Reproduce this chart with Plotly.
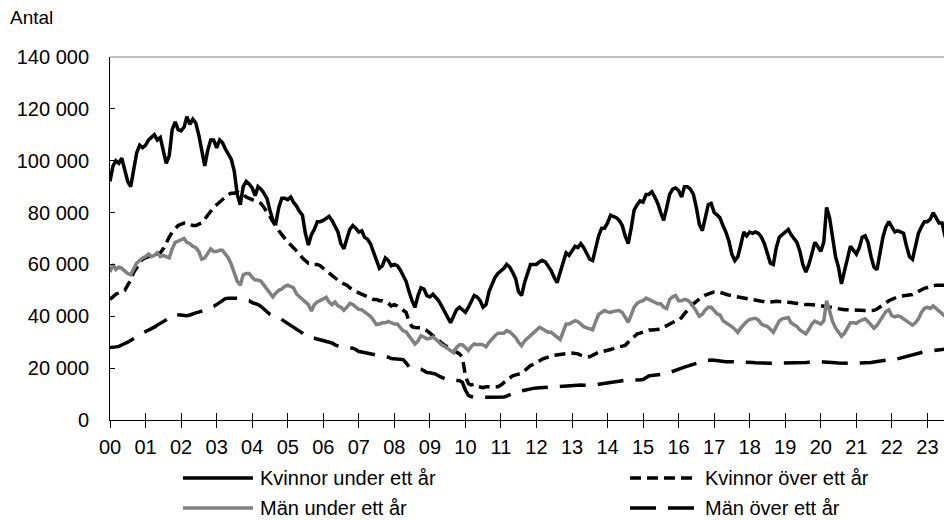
import plotly.graph_objects as go

# monthly series, thousands of persons, Jan 2000 .. Sep 2023
years = list(range(2000, 2024))
last_month_2023 = 9

kvinnor_under = [
    92, 98, 100, 99, 101, 97, 92, 90, 96, 103, 106, 105,
    106, 108, 109, 110, 108, 109, 104, 99, 102, 112, 115, 112,
    111.5, 113, 117, 114, 116, 114.5, 110, 104, 98, 104, 108, 108,
    105, 108, 107, 104.5, 102.5, 100.5, 96, 87, 83, 90, 92, 91,
    89.5, 86.5, 90, 89, 87.5, 85.5, 81, 77, 76, 82, 85.5, 85.5,
    85, 86, 84, 82.5, 80.5, 79, 72, 67.5, 71.5, 73.5, 76.5, 76.5,
    77, 78, 78.5, 77, 75, 72.5, 68, 66, 70, 73.5, 75, 74,
    72.5, 73, 70.5, 69.7, 68, 65, 62, 58.5, 59.5, 62.5, 61.5, 59.5,
    60, 59.5, 58, 56, 53.5, 49.5, 46, 43.5, 48, 51, 50.5, 48,
    47.5, 48.5, 47.5, 46, 44, 42, 40, 37.5, 40, 42.5, 43.5, 42.5,
    41.5, 43.5, 45.5, 48, 47.5, 46, 43.5, 44.5, 49.5, 52.5, 55, 56.5,
    57.5, 58.5, 60, 59, 57, 54.5, 49.5, 48, 53, 56.5, 60, 60,
    60, 61, 61.5, 61, 59.5, 57.5, 55, 53, 57, 61, 64.5, 63.5,
    65, 67, 66.5, 68, 66.5, 64.5, 62, 61.5, 66, 71, 74, 74,
    76, 79, 78.5, 78, 77, 75, 71, 68, 74, 81, 83, 84.5,
    84, 87, 87, 88, 86, 83.5, 80, 77, 82, 87, 89, 89.5,
    88.5, 86, 90, 90, 89, 87, 82, 75.5, 73, 78, 83, 83.5,
    80, 79, 78, 75, 72.5, 69, 64, 61.5, 63, 67.5, 72.5, 71,
    72.5, 72, 72.5, 72, 70.5, 68, 64, 60.5, 60, 66.5, 70.5, 71.5,
    72.5, 73.5, 71.5, 70, 68.5, 65, 60, 57, 60, 64, 68.5, 67,
    65, 68.5, 82, 78, 70.5, 63, 59, 52.5, 57.5, 63, 67, 65.5,
    64, 66.5, 70.5, 71, 68.5, 63, 59, 58, 64, 70.5, 74.5, 76.5,
    74.5, 72.5, 73, 72.5, 72, 67, 63, 62, 66.5, 72, 74.5, 76.5,
    76.5, 77.5, 80, 78, 76, 76, 71, 68, 68,
]

kvinnor_over = [
    46.5, 47.5, 48.5, 49, 49.5, 50, 52, 54, 57, 59, 60.5, 62,
    62.5, 63, 63.5, 64, 64, 64.5, 66, 68.5, 70.5, 72.5, 74, 75,
    75.5, 76, 76, 75.5, 75, 75, 75.5, 76, 77.5, 79, 80.5, 82,
    83, 84, 85, 86, 87, 87.5, 87.5, 88, 87.5, 87, 86, 85.5,
    85, 84.5, 84, 83.5, 82, 80.5, 78.5, 76.5, 75, 73, 71.5, 70,
    68.5, 67.5, 66.5, 65, 64, 62.5, 61.5, 60.5, 60.5, 60, 60, 59.5,
    58.5, 57.5, 57, 56, 55, 54, 53, 52.5, 52, 51, 50.5, 49.7,
    49, 48.5, 48, 47.5, 47, 46.5, 46.5, 46, 46, 45.5, 45, 44,
    44.5, 44, 43.3, 42.5, 41.5, 38, 36, 35.7, 35.7, 35.5, 35, 34.5,
    33.5, 32.5, 31.5, 30.5, 29.5, 28.8, 28.2, 27.5, 26.8, 26.3, 25.5, 24.2,
    17, 14, 13.5, 13.8, 13, 12.7, 12.5, 12.8, 12.8, 12.8, 12.8, 12.8,
    13.5, 14.5, 15.5, 16.2, 17, 17.5, 17.7, 18, 19, 20, 21, 21.5,
    22, 22.8, 23.5, 24, 24.2, 24.7, 25, 25.2, 25.2, 25.4, 25.6, 25.7,
    25.8, 25.8, 25.5, 25, 24.6, 24.4, 24.4, 25, 25.8, 26.1, 26.3, 26.5,
    26.8, 27.2, 27.5, 28, 28.3, 28.5, 28.8, 30, 31, 32, 33.2, 33.5,
    34, 34.5, 34.7, 34.7, 34.8, 34.8, 35, 35.8, 36.5, 37.2, 37.8, 38.2,
    38.5, 39.5, 41, 42.5, 43.5, 44.8, 45.8, 46.8, 47.6, 48.2, 48.7, 49.1,
    49.4, 49.5, 49.3, 48.9, 48.5, 48.1, 47.9, 47.7, 47.5, 47.3, 47.2, 47,
    46.8, 46.6, 46.3, 46, 45.7, 45.5, 45.4, 45.5, 45.7, 45.8, 45.7, 45.6,
    45.8, 45.6, 45.3, 45.1, 44.9, 44.7, 44.6, 44.5, 44.5, 44.5, 44.4, 44.3,
    44.1, 43.9, 43.6, 43.3, 43, 42.8, 42.7, 42.6, 42.5, 42.5, 42.4, 42.3,
    42.3, 42.2, 42.2, 42.2, 42.2, 42.2, 42.3, 42.8, 43.5, 44.3, 45.2, 46,
    46.6, 47.1, 47.5, 47.8, 47.9, 48, 48.1, 48.4, 49, 49.6, 50.3, 50.8,
    51.1, 51.5, 51.8, 52, 52, 51.9, 51.8, 51.8, 51.9,
]

man_under = [
    57, 60, 58, 59, 58.5, 57.5, 56.5, 56, 58, 60.5, 61.5, 62.5,
    63, 64, 63, 63.5, 64.5, 63, 63.5, 63, 62.5, 66, 68.5, 69,
    69.5, 70, 68.5, 68, 67, 66.5, 65, 62, 62.5, 64.5, 66, 65,
    65, 65.5, 65.5, 64, 62.5, 60, 57, 53.5, 52, 56, 56.5, 56.5,
    55, 54, 54, 53.5, 52, 50.5, 49, 47.5, 49, 50, 50.5, 51.5,
    52, 51.5, 51, 48.6, 47.5, 46.5, 45.5, 44.5, 42, 44.5, 45.5, 46,
    46.5, 47.3, 45.5, 44.5, 45.5, 44, 43.5, 42.3, 43.5, 45, 44.5, 43.5,
    42.7, 42.5, 41.7, 41, 40, 38.5, 36.8, 37, 37.5, 37.5, 38, 37.5,
    37, 37, 35.5, 34.4, 34, 32.5, 31, 29.3, 30.5, 32.5, 32, 31.3,
    31.5, 32, 31.2, 30, 29, 28.4, 27.5, 26.8, 26, 28, 29, 29,
    28, 26.8, 28.3, 29.3, 29, 29.2, 29, 28.2, 30, 31.5, 32.5, 33.5,
    33.5, 33.5, 34.5, 34, 33, 31.8, 30, 28.6, 30.5, 31.5, 32.8, 33.5,
    34.8, 35.7, 35.2, 34.3, 33.8, 33.8, 33, 32, 31, 34, 37, 37,
    37.5, 38.3, 38, 37, 36, 35.5, 35.1, 34.8, 38, 40.7, 41.5, 42.2,
    41.7, 41.5, 41.9, 42, 42.2, 41.5, 39.5, 37.7, 40.5, 43.5, 45, 45.7,
    46, 47, 46.5, 46, 45.2, 44.8, 44.8, 43.5, 43, 46.5, 47.5, 48,
    46, 46, 46.5, 46.2, 45.3, 43.8, 42, 40, 40.8, 42.4, 43.5, 43.5,
    42, 40.9, 40.5, 38.3, 37.5, 36.8, 36, 35, 33.8, 35.5, 37, 38,
    38.8, 39, 39.2, 38.5, 37, 36.4, 36.1, 35, 33.8, 36, 38.2, 39,
    39.4, 39.5, 37.5, 36.8, 36, 34.7, 33.9, 33.2, 35, 37, 38.1, 37.6,
    37, 38.2, 46, 42, 38, 35.5, 34, 32.3, 33.5, 35.7, 37.5, 37.5,
    37.3, 38.1, 38.6, 39, 38, 36.8, 35.4, 36.5, 38.3, 40, 41.8, 42.5,
    40.2, 39.8, 40.2, 39.8, 39, 38.2, 37.3, 36.6, 37.5, 39, 41.5, 43,
    43.5, 43, 44, 43, 41.7, 40.9, 40, 39, 38,
]

man_over = [
    28, 28, 28.2, 28.4, 28.8, 29.5, 30, 30.8, 31.5, 32, 32.8, 33.5,
    34, 34.5, 35, 35.8, 36.6, 37.3, 38, 38.5, 39.3, 40.3, 40.8, 40.6,
    40.5, 40.3, 40.2, 40.5, 41, 41.3, 41.6, 42, 42.3, 42.8, 43.3, 43.8,
    44.5, 45.3, 46.3, 46.8, 47, 47, 47.2, 47, 46.6, 46.4, 46.3, 46,
    45.3, 45, 44.5, 43.8, 42.8, 41.8, 40.8, 40.3, 40, 39.5, 38.7, 38,
    37.3, 36.5, 35.8, 35, 34.5, 33.5, 32.5, 32, 31.6, 31.5, 31.2, 30.8,
    30.3, 30.2, 30, 29.7, 29, 28.4, 28.2, 28, 28, 27.8, 27.7, 27.2,
    26.4, 26.2, 26, 25.7, 25.4, 25.2, 24.8, 24.8, 24.8, 24.6, 24.2, 23.7,
    23.6, 23.7, 23.5, 23.3, 22, 20.5, 20.2, 20, 19.8, 19.6, 19, 18.3,
    18.2, 18, 17.7, 17, 16.5, 16, 15.5, 15.4, 15.4, 15.4, 15.2, 14.5,
    11.5, 9.5, 9, 8.9, 8.8, 8.8, 8.8, 8.8, 8.8, 8.8, 8.8, 8.8,
    8.8, 8.9, 9.2, 9.8, 10.3, 10.7, 11, 11.3, 11.6, 11.9, 12.1, 12.2,
    12.3, 12.4, 12.5, 12.6, 12.7, 12.8, 12.9, 13, 13.1, 13.2, 13.3, 13.4,
    13.5, 13.5, 13.5, 13.5, 13.4, 13.4, 13.4, 13.5, 13.6, 13.8, 14, 14.2,
    14.4, 14.6, 14.8, 14.9, 15, 15.1, 15.2, 15.2, 15.3, 15.4, 15.5, 15.5,
    15.6, 16.5, 17, 17.2, 17.3, 17.4, 17.4, 17.5, 17.8, 18.3, 18.8, 19.3,
    19.6, 20, 20.4, 20.8, 21.2, 21.6, 22, 22.3, 22.6, 22.8, 23, 23.1,
    23, 22.8, 22.6, 22.5, 22.5, 22.5, 22.5, 22.5, 22.5, 22.5, 22.4, 22.4,
    22.3, 22.2, 22.1, 22, 22, 21.9, 21.9, 21.9, 21.9, 21.9, 22, 22,
    21.9, 21.9, 21.9, 21.9, 21.9, 22, 22.1, 22.2, 22.3, 22.4, 22.5, 22.5,
    22.5, 22.4, 22.4, 22.3, 22.2, 22.1, 22, 21.9, 21.9, 21.9, 21.9, 21.9,
    21.9, 21.9, 22, 22, 22.1, 22.2, 22.4, 22.6, 22.8, 23, 23.1, 23.2,
    23, 23.3, 23.7, 24, 24.3, 24.6, 25, 25.3, 25.6, 25.9, 26.1, 26.3,
    26.4, 26.6, 26.8, 27, 27.2, 27.4, 27.5, 27.6, 27.7,
]

series_names = ["Kvinnor under ett år", "Kvinnor över ett år",
                "Män under ett år", "Män över ett år"]

months = [f"{y}-{m:02d}-01" for y in years for m in range(1, 13)]
months = months[:len(months) - (12 - last_month_2023)]

FONT = "Liberation Sans, Arial, sans-serif"
OFF = 8  # page body margin, the figure is drawn 8px in from the window corner
W, H = 952 - OFF, 520 - OFF
L, R, T, B = 102, 0, 49, 100
PW, PH = W - L - R, H - T - B


def px(x):
    # window pixel -> paper fraction
    return (x - OFF - L) / PW


def py(y):
    return (H - B - (y - OFF)) / PH


styles = [
    dict(color="black", width=3.5),
    dict(color="black", width=3.5, dash="11px,6px"),
    dict(color="#808080", width=3.5),
    dict(color="black", width=3.5, dash="26px,12px"),
]
data = [kvinnor_under, kvinnor_over, man_under, man_over]

fig = go.Figure()
for name, vals, st in zip(series_names, data, styles):
    fig.add_trace(go.Scatter(
        x=months, y=[v * 1000 for v in vals], mode="lines", name=name,
        line=st, showlegend=False, hoverinfo="skip",
    ))

# second x axis only for the inside half of the crossing ticks
fig.add_trace(go.Scatter(x=months[:1], y=[None], xaxis="x2",
                         showlegend=False, hoverinfo="skip"))

xrange = ["2000-01-01", "2023-09-11"]

fig.update_layout(
    width=W, height=H,
    margin=dict(l=L, r=R, t=T, b=B),
    paper_bgcolor="white", plot_bgcolor="white",
    font=dict(family=FONT, size=20, color="black"),
    separators=", ",
    xaxis=dict(
        type="date", range=xrange, tick0="2000-01-01", dtick="M12",
        tickformat="%y", ticks="outside", ticklen=7, tickcolor="black",
        showline=True, linecolor="black", linewidth=1,
        showgrid=False, zeroline=False, ticklabelstandoff=2,
        tickfont=dict(family=FONT, size=20, color="black"),
    ),
    xaxis2=dict(
        type="date", range=xrange, tick0="2000-01-01", dtick="M12",
        overlaying="x", side="bottom", anchor="y",
        ticks="inside", ticklen=7, tickcolor="black",
        showticklabels=False, showline=False, showgrid=False, zeroline=False,
    ),
    yaxis=dict(
        range=[0, 140000], dtick=20000, tickformat=",d",
        ticks="inside", ticklen=5, tickcolor="black",
        showline=True, linecolor="black", linewidth=1,
        showgrid=False, zeroline=False, ticklabelstandoff=16,
        tickfont=dict(family=FONT, size=20, color="black"),
    ),
)

shapes = [dict(type="line", xref="paper", yref="paper", x0=0, x1=1, y0=1, y1=1,
               line=dict(color="#808080", width=1))]
annotations = [dict(text="Antal", xref="paper", yref="paper", x=px(8), y=py(18),
                    xanchor="left", yanchor="middle", showarrow=False,
                    font=dict(size=19, color="black"))]

# manual legend: two rows, two columns (window pixels)
legend_pos = [(183, 253, 478), (630, 698, 478), (183, 253, 508), (630, 698, 508)]
for name, st, (x0, x1, y) in zip(series_names, styles, legend_pos):
    shapes.append(dict(type="line", xref="paper", yref="paper",
                       x0=px(x0), x1=px(x1), y0=py(y), y1=py(y), line=st))
    annotations.append(dict(text=name, xref="paper", yref="paper",
                            x=px(x1 + 5), y=py(y), xanchor="left", yanchor="middle",
                            showarrow=False, font=dict(size=20, color="black")))

fig.update_layout(shapes=shapes, annotations=annotations)

fig.write_html("out.html")
